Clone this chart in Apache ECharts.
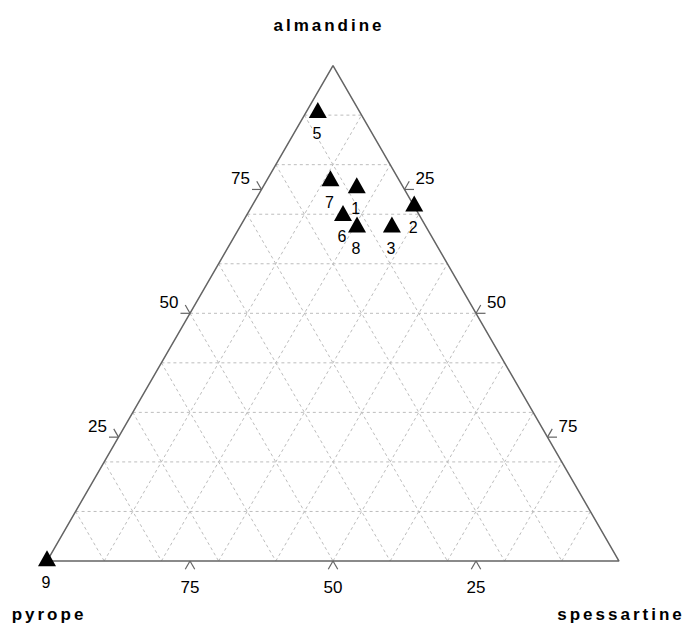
<!DOCTYPE html>
<html><head><meta charset="utf-8">
<script src="https://cdn.jsdelivr.net/npm/echarts@6/dist/echarts.min.js"></script>
<style>html,body{margin:0;padding:0;background:#fff}#c{width:688px;height:626px}</style>
</head><body><div id="c"></div>
<script>
// ---- data (percent) ----
const pointLabels = ['1','2','3','5','6','7','8','9'];
const pyrope      = [8.2, 0.0, 6.0, 7.4, 13.4, 12.1, 12.1, 100];
const almandine   = [75.3, 71.6, 67.4, 90.5, 69.7, 76.7, 67.4, 0];
const spessartine = [16.5, 28.4, 26.6, 2.1, 16.9, 11.2, 20.5, 0];
const tickValues = [25, 50, 75];
const gridValues = [10, 20, 30, 40, 50, 60, 70, 80, 90];
const axisNames = ['almandine', 'pyrope', 'spessartine'];

// ---- ternary projection ----
const H = Math.sqrt(3) / 2;
function toXY(p, a, s) { const t = p + a + s; return [(s + a / 2) / t, (a / t) * H]; }

const pts = pointLabels.map((l, i) => toXY(pyrope[i], almandine[i], spessartine[i]).concat([l]));

// grid lines
const gridLines = [];
gridValues.forEach(v => {
  const f = v / 100;
  gridLines.push(toXY(1 - f, f, 0).concat(toXY(0, f, 1 - f)));      // almandine
  gridLines.push(toXY(f, 1 - f, 0).concat(toXY(f, 0, 1 - f)));      // pyrope
  gridLines.push(toXY(1 - f, 0, f).concat(toXY(0, 1 - f, f)));      // spessartine
});

// ticks: [x, y, axisIndex, value]
const ticks = [];
tickValues.forEach(v => {
  const f = v / 100;
  ticks.push(toXY(1 - f, f, 0).concat([0, v]));   // almandine (left edge)
  ticks.push(toXY(f, 0, 1 - f).concat([1, v]));   // pyrope (bottom edge)
  ticks.push(toXY(0, 1 - f, f).concat([2, v]));   // spessartine (right edge)
});

const border = [toXY(100, 0, 0), toXY(0, 0, 100), toXY(0, 100, 0), toXY(100, 0, 0)];

// tick styling per axis
const L = 9.5, c60 = 0.5, s60 = Math.sqrt(3) / 2;
const tickStyle = [
  { arms: [[-L, 0], [-L * c60, -L * s60]], lab: [-21, -10.8] },
  { arms: [[-L * c60, L * s60], [L * c60, L * s60]], lab: [0, 26] },
  { arms: [[L, 0], [L * c60, -L * s60]], lab: [20.5, -10.5] }
];

const FONT = '"Liberation Sans", Arial, Helvetica, sans-serif';
const chart = echarts.init(document.getElementById('c'), null, { renderer: 'svg' });
chart.setOption({
  animation: false,
  backgroundColor: '#fff',
  grid: { left: 47, top: 65.6, width: 572, height: 495.4, show: false },
  xAxis: { type: 'value', min: 0, max: 1, show: false },
  yAxis: { type: 'value', min: 0, max: H, show: false },
  graphic: [
    { type: 'text', x: 329, y: 25, style: { text: axisNames[0], font: 'bold 17px ' + FONT, fill: '#000', align: 'center', verticalAlign: 'middle' } },
    { type: 'text', x: 49, y: 614.5, style: { text: axisNames[1], font: 'bold 17px ' + FONT, fill: '#000', align: 'center', verticalAlign: 'middle' } },
    { type: 'text', x: 621, y: 614, style: { text: axisNames[2], font: 'bold 17px ' + FONT, fill: '#000', align: 'center', verticalAlign: 'middle' } }
  ],
  series: [
    {
      type: 'custom', clip: false, silent: true, z: 1,
      data: gridLines,
      renderItem: (params, api) => {
        const a = api.coord([api.value(0), api.value(1)]);
        const b = api.coord([api.value(2), api.value(3)]);
        return { type: 'line', shape: { x1: a[0], y1: a[1], x2: b[0], y2: b[1] },
          style: { stroke: '#bdbdbd', lineWidth: 1, lineDash: [3, 3] } };
      }
    },
    {
      type: 'line', data: border, symbol: 'none', silent: true, z: 2, clip: false,
      lineStyle: { color: '#646464', width: 1.5 }
    },
    {
      type: 'custom', clip: false, silent: true, z: 3,
      data: ticks,
      renderItem: (params, api) => {
        const p = api.coord([api.value(0), api.value(1)]);
        const st = tickStyle[api.value(2)];
        const children = st.arms.map(d => ({ type: 'line',
          shape: { x1: p[0], y1: p[1], x2: p[0] + d[0], y2: p[1] + d[1] },
          style: { stroke: '#646464', lineWidth: 1.2 } }));
        children.push({ type: 'text', x: p[0] + st.lab[0], y: p[1] + st.lab[1],
          style: { text: String(api.value(3)), font: '17px ' + FONT, fill: '#000', align: 'center', verticalAlign: 'middle' } });
        return { type: 'group', children };
      }
    },
    {
      type: 'scatter', data: pts.map(d => [d[0], d[1]]), clip: false, z: 4,
      symbol: 'triangle', symbolSize: [18, 16], symbolOffset: [0, -2.7],
      itemStyle: { color: '#000', opacity: 1 }
    },
    {
      type: 'custom', clip: false, silent: true, z: 5,
      data: pts,
      renderItem: (params, api) => {
        const p = api.coord([api.value(0), api.value(1)]);
        return { type: 'text', x: p[0] - 1, y: p[1] + 21,
          style: { text: pointLabels[params.dataIndex], font: '16px ' + FONT, fill: '#000', align: 'center', verticalAlign: 'middle' } };
      }
    }
  ]
});
// letter-spaced axis titles
document.querySelectorAll('#c svg text').forEach(t => {
  if (axisNames.indexOf(t.textContent) >= 0) t.setAttribute('letter-spacing', '3');
});
</script>
</body></html>
